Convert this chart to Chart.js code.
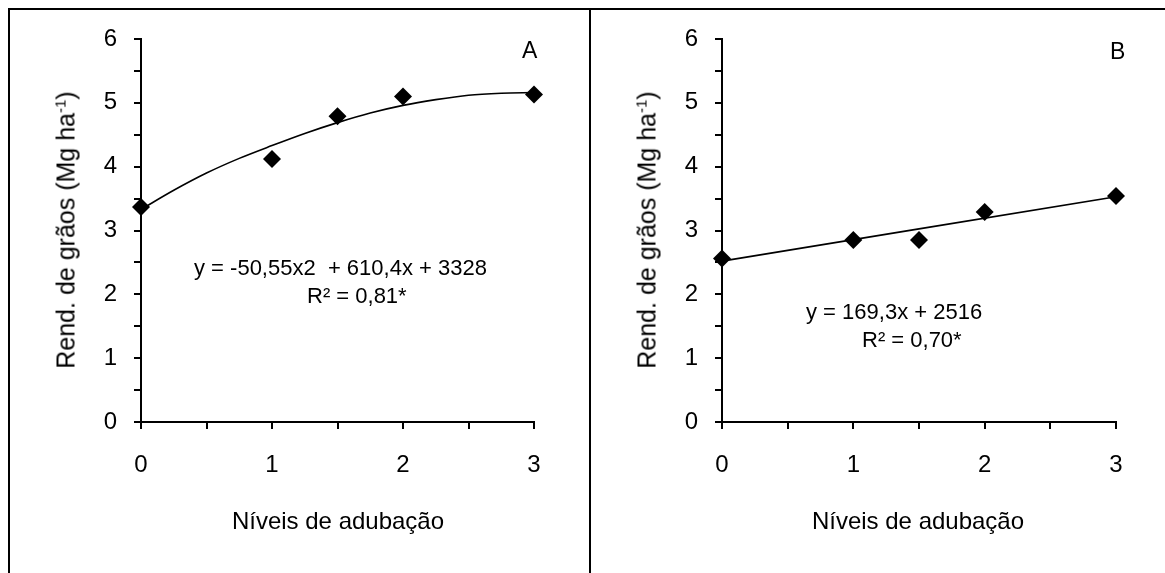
<!DOCTYPE html>
<html>
<head>
<meta charset="utf-8">
<script src="https://cdn.jsdelivr.net/npm/chart.js@4.4.1/dist/chart.umd.min.js"></script>
<style>
  html, body { margin:0; padding:0; background:#fff; }
  body { width:1165px; height:573px; position:relative; overflow:hidden; font-family:"Liberation Sans", Arial, sans-serif; color:#000; }
  .cv { position:absolute; top:0; }
  .line { position:absolute; background:#000; }
  .txt { position:absolute; white-space:pre; line-height:1; }
  .ytitle { position:absolute; white-space:pre; transform:translate(-50%,-50%) rotate(-90deg); line-height:1; }
  sup { font-size:60%; vertical-align:top; position:relative; top:-1px; }
</style>
</head>
<body>
<div class="line" style="left:8px;top:8px;width:1157px;height:2px"></div>
<div class="line" style="left:8px;top:8px;width:2px;height:565px"></div>
<div class="line" style="left:589px;top:8px;width:2px;height:565px"></div>

<canvas id="cA" class="cv" style="left:0px" width="589" height="573"></canvas>
<canvas id="cB" class="cv" style="left:581px" width="584" height="573"></canvas>

<div class="txt" style="left:522px;top:39px;font-size:23px">A</div>
<div class="txt" style="left:1110px;top:40px;font-size:23px">B</div>

<div class="txt" style="left:194px;top:257px;font-size:22px">y = -50,55x2  + 610,4x + 3328</div>
<div class="txt" style="left:307px;top:285px;font-size:22px">R² = 0,81*</div>

<div class="txt" style="left:806px;top:301px;font-size:22px">y = 169,3x + 2516</div>
<div class="txt" style="left:862px;top:329px;font-size:22px">R² = 0,70*</div>

<div class="ytitle" style="left:66px;top:230px;font-size:25px">Rend. de grãos (Mg ha<sup>-1</sup>)</div>
<div class="ytitle" style="left:647px;top:230px;font-size:25px">Rend. de grãos (Mg ha<sup>-1</sup>)</div>

<div class="txt" style="left:338px;top:509px;font-size:24px;transform:translateX(-50%)">Níveis de adubação</div>
<div class="txt" style="left:918px;top:509px;font-size:24px;transform:translateX(-50%)">Níveis de adubação</div>

<script>
// ---- data ----
const levels = [0, 1, 1.5, 2, 3];
const yieldA = [3.37, 4.12, 4.79, 5.10, 5.13];
const yieldB = [2.56, 2.85, 2.85, 3.29, 3.54];

const trendAx = [0, 0.25, 0.5, 0.75, 1, 1.25, 1.5, 1.75, 2, 2.25, 2.5, 2.75, 3];
const trendAy = [3.33, 3.63, 3.90, 4.13, 4.33, 4.52, 4.69, 4.84, 4.96, 5.05, 5.12, 5.15, 5.16];
const trendBx = [0, 3];
const trendBy = [2.52, 3.53];

const xTickLabels = ['0', '1', '2', '3'];
const yTickLabels = ['0', '1', '2', '3', '4', '5', '6'];

function pts(xs, ys) { return xs.map((x, i) => ({ x: x, y: ys[i] })); }

const FONT = '"Liberation Sans", Arial, sans-serif';

function makeChart(id, px, py, tx, ty, rightPad) {
  return new Chart(document.getElementById(id), {
    type: 'scatter',
    data: {
      datasets: [
        {
          data: pts(px, py),
          pointStyle: 'rectRot',
          pointRadius: 9,
          pointHoverRadius: 9,
          backgroundColor: '#000',
          borderColor: '#000',
          borderWidth: 0,
          showLine: false,
          clip: false,
          order: 0
        },
        {
          data: pts(tx, ty),
          showLine: true,
          pointRadius: 0,
          borderColor: '#000',
          borderWidth: 1.6,
          cubicInterpolationMode: 'monotone',
          fill: false,
          clip: false,
          order: 1
        }
      ]
    },
    options: {
      responsive: false,
      animation: false,
      events: [],
      layout: { padding: { left: 0, right: rightPad, top: 39, bottom: 0 } },
      plugins: { legend: { display: false }, tooltip: { enabled: false } },
      scales: {
        x: {
          type: 'linear', min: 0, max: 3,
          afterFit: s => { s.height = 151; },
          border: { display: true, color: '#000', width: 2 },
          grid: { drawOnChartArea: false, drawTicks: true, tickLength: 7, tickColor: '#000', lineWidth: 2 },
          ticks: {
            stepSize: 0.5, autoSkip: false, maxRotation: 0, padding: 22,
            color: '#000', font: { family: FONT, size: 24 },
            callback: v => (Number.isInteger(v) ? xTickLabels[v] : '')
          }
        },
        y: {
          type: 'linear', min: 0, max: 6,
          afterFit: s => { s.width = 141; },
          border: { display: true, color: '#000', width: 2 },
          grid: { drawOnChartArea: false, drawTicks: true, tickLength: 7, tickColor: '#000', lineWidth: 2 },
          ticks: {
            stepSize: 0.5, autoSkip: false, padding: 17,
            color: '#000', font: { family: FONT, size: 24 },
            callback: v => (Number.isInteger(v) ? yTickLabels[v] : '')
          }
        }
      }
    }
  });
}

makeChart('cA', levels, yieldA, trendAx, trendAy, 589 - 534);
makeChart('cB', levels, yieldB, trendBx, trendBy, 584 - 535);
</script>
</body>
</html>
